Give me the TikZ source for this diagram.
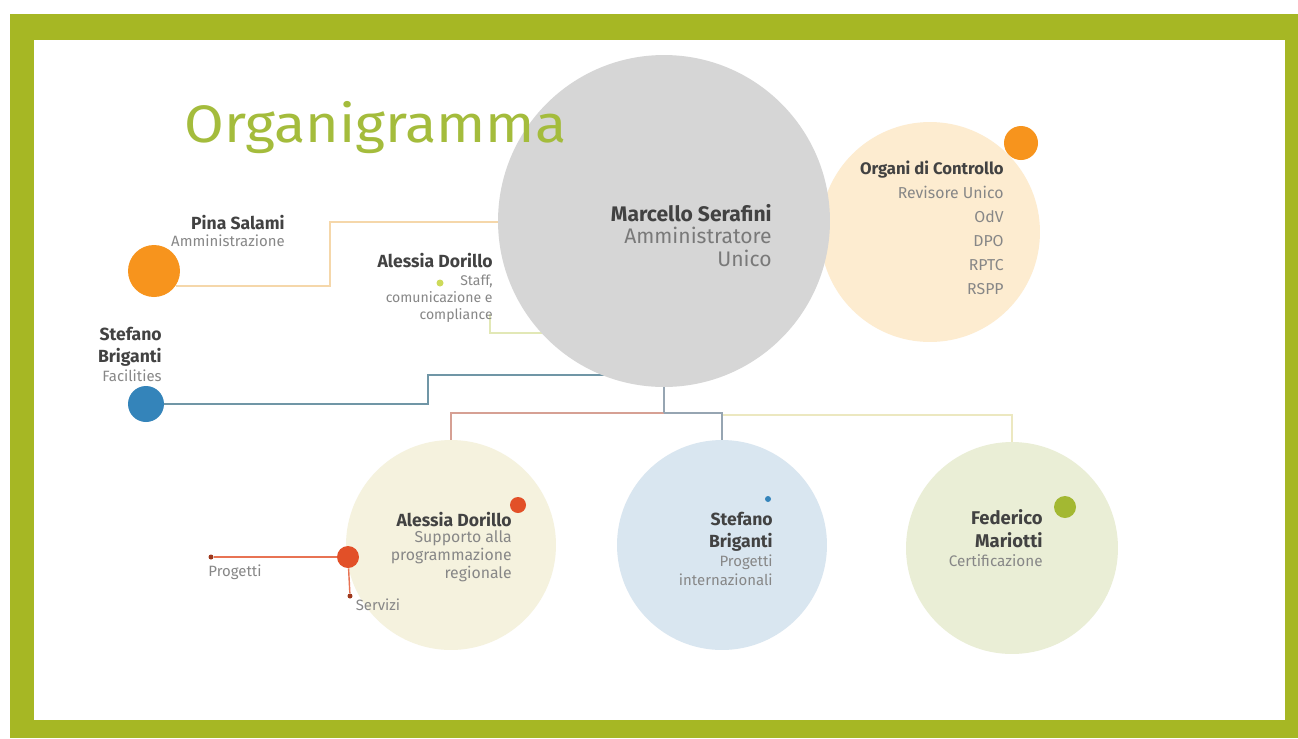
\documentclass[tikz,border=0pt]{standalone}
\usepackage{fontspec}
\setmainfont{Fira Sans}
\newfontfamily\titlefont{Fira Sans}[FakeStretch=1.09]
\definecolor{framegreen}{RGB}{166,183,36}
\definecolor{titlegreen}{RGB}{164,188,60}
\definecolor{ceogray}{RGB}{214,214,214}
\definecolor{peach}{RGB}{253,236,208}
\definecolor{orangedot}{RGB}{247,148,29}
\definecolor{bluedot}{RGB}{52,132,186}
\definecolor{reddot}{RGB}{226,80,40}
\definecolor{greendot}{RGB}{163,184,50}
\definecolor{limedot}{RGB}{205,218,90}
\definecolor{paleyellow}{RGB}{245,242,222}
\definecolor{paleblue}{RGB}{217,230,240}
\definecolor{palegreen}{RGB}{234,238,214}
\definecolor{lnorange}{RGB}{245,215,170}
\definecolor{lnlime}{RGB}{226,232,182}
\definecolor{lnblue}{RGB}{112,150,166}
\definecolor{lnred}{RGB}{214,160,148}
\definecolor{lngray}{RGB}{150,165,178}
\definecolor{lnyellow}{RGB}{236,232,192}
\definecolor{ink}{RGB}{66,66,66}
\definecolor{mute}{RGB}{135,135,135}
\tikzset{
  bubble/.style={circle, inner sep=0pt, minimum size=#1},
  who/.style={anchor=base east, inner sep=0pt, text=ink, align=right,
    font=\bfseries\fontsize{10}{12}\selectfont},
  job/.style={anchor=base east, inner sep=0pt, text=mute, align=right,
    font=\fontsize{8.5}{10}\selectfont},
  wire/.style={line width=0.8pt, draw=#1}
}
\begin{document}
\begin{tikzpicture}[x=0.02cm,y=-0.02cm]
\useasboundingbox (0,0) rectangle (1298,738);
% frame
\fill[framegreen] (10,14) rectangle (1298,738);
\fill[white] (34,40) rectangle (1285,720);

% circles that sit under the lines
\node[bubble=4.4cm, fill=peach] (org) at (930,232) {};
\node[bubble=4.2cm, fill=paleyellow] (supp) at (451,545) {};
\node[bubble=4.2cm, fill=paleblue] (intl) at (722,545) {};
\node[bubble=4.24cm, fill=palegreen] (cert) at (1012,548) {};
\node[bubble=1.04cm, fill=orangedot] (pina) at (154,271) {};
\node[bubble=0.72cm, fill=bluedot] (fac) at (146,404) {};

% connectors
\coordinate (pinaknee) at (330,222);
\coordinate (staffend) at (490,314);
\coordinate (facknee) at (428,375);
\coordinate (fork) at (664,413);
\draw[wire=lnorange] (pina.-35) -| (pinaknee) -- (pinaknee -| org.west);
\draw[wire=lnlime] (staffend) |- ++(120,19);
\draw[wire=lnblue] (fac.east) -| (facknee) -- ++(200,0);
\draw[wire=lnred] (fork) -| (supp.north);
\draw[wire=lnyellow] (fork -| intl.north) ++(0,2) -| (cert.north);
\draw[wire=lngray] (fork) -| (intl.north);

\node[bubble=6.64cm, fill=ceogray] (ceo) at (664,221) {};
\draw[wire=lngray] (ceo.south) -- (fork);

\node[anchor=base west, inner sep=0pt, text=titlegreen,
  font=\titlefont\fontsize{30}{30}\selectfont] (title) at (184,142) {Organigramma};

% dots
\node[bubble=0.68cm, fill=orangedot] (orgdot) at (1021,143) {};
\node[bubble=0.14cm, fill=limedot] (staffdot) at (440,283) {};
\node[bubble=0.32cm, fill=reddot] (suppdot) at (518,505) {};
\node[bubble=0.44cm, fill=reddot] (hub) at (348,557) {};
\node[bubble=0.12cm, fill=bluedot] (intldot) at (768,499) {};
\node[bubble=0.44cm, fill=greendot] (certdot) at (1065,507) {};
\node[bubble=0.1cm, fill=reddot!70!black] (progdot) at (211,557) {};
\node[bubble=0.1cm, fill=reddot!70!black] (servdot) at (350,596) {};
\draw[wire=reddot!80] (hub) -- (progdot);
\draw[wire=reddot!80] (hub) -- (servdot);

% texts (base = last line)
\node[who, font=\bfseries\fontsize{12}{13}\selectfont] (ceoname) at (772,221) {Marcello Serafini};
\node[job, font=\fontsize{12}{12.8}\selectfont, text=mute!90!black] (ceojob) at (772,266) {Amministratore\\Unico};

\node[who, font=\bfseries\fontsize{9.5}{12}\selectfont] (orgname) at (1004,174) {Organi di Controllo};
\foreach \t [count=\i] in {Revisore Unico,OdV,DPO,RPTC,RSPP}
  \node[job, font=\fontsize{9}{10}\selectfont] (org\i) at (1004,{174+24*\i}) {\t};

\node[who] (pinaname) at (285,229) {Pina Salami};
\node[job] (pinajob) at (285,246) {Amministrazione};

\node[who] (staffname) at (493,267) {Alessia Dorillo};
\node[job, font=\fontsize{8}{9.4}\selectfont] (staffjob) at (493,319) {Staff,\\comunicazione e\\compliance};

\node[who] (facname) at (162,362) {Stefano\\Briganti};
\node[job] (facjob) at (162,381) {Facilities};

\node[who] (suppname) at (512,526) {Alessia Dorillo};
\node[job, font=\fontsize{9}{10}\selectfont] (suppjob) at (512,578) {Supporto alla\\programmazione\\regionale};

\node[who] (intlname) at (773,547) {Stefano\\Briganti};
\node[job, font=\fontsize{8.5}{10.8}\selectfont] (intljob) at (773,585) {Progetti\\internazionali};

\node[who, font=\bfseries\fontsize{10.5}{13}\selectfont] (certname) at (1043,547) {Federico\\Mariotti};
\node[job, font=\fontsize{8.7}{10}\selectfont] (certjob) at (1043,566) {Certificazione};

\node[job, anchor=base] (prog) at (235,576) {Progetti};
\node[job, anchor=base] (serv) at (378,610) {Servizi};
\end{tikzpicture}
\end{document}
